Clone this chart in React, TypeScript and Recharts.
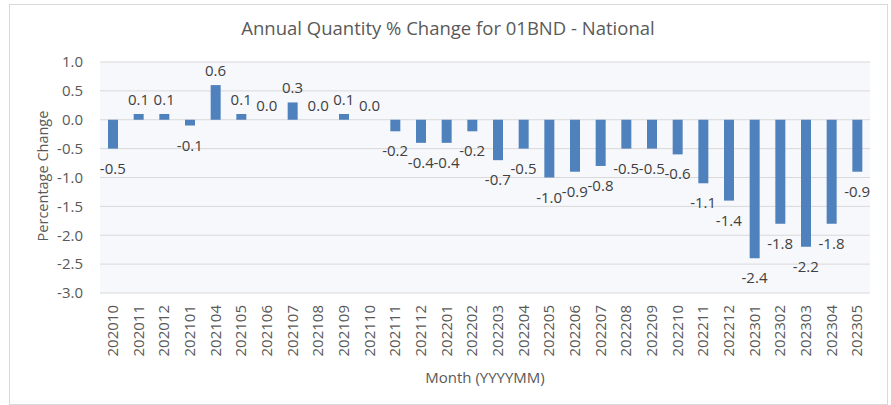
import React from 'react';
import {
  ComposedChart,
  Bar,
  Line,
  XAxis,
  YAxis,
  CartesianGrid,
  LabelList,
  Label
} from 'recharts';

// 月 (YYYYMM)
const months = [
  '202010', '202011', '202012', '202101', '202104', '202105', '202106', '202107',
  '202108', '202109', '202110', '202111', '202112', '202201', '202202', '202203',
  '202204', '202205', '202206', '202207', '202208', '202209', '202210', '202211',
  '202212', '202301', '202302', '202303', '202304', '202305'
];

// 前年比 %
const pctChange = [
  -0.5, 0.1, 0.1, -0.1, 0.6, 0.1, 0.0, 0.3,
  0.0, 0.1, 0.0, -0.2, -0.4, -0.4, -0.2, -0.7,
  -0.5, -1.0, -0.9, -0.8, -0.5, -0.5, -0.6, -1.1,
  -1.4, -2.4, -1.8, -2.2, -1.8, -0.9
];

const yTicks = [1.0, 0.5, 0.0, -0.5, -1.0, -1.5, -2.0, -2.5, -3.0];

const FONT = '"Open Sans", sans-serif';
const AXIS_COLOR = '#595959';
const LABEL_COLOR = '#404040';
const BAR_COLOR = '#4f81bd';

const data = months.map((m, i) => ({ month: m, value: pctChange[i] }));

const MonthTick = (props: any) => {
  const { x, y, payload } = props;
  return (
    <g transform={`translate(${x},${y + 4}) rotate(-90)`}>
      <text
        x={0}
        y={0}
        dy="0.35em"
        textAnchor="end"
        fill={AXIS_COLOR}
        fontSize={15}
        fontFamily={FONT}
      >
        {payload.value}
      </text>
    </g>
  );
};

// 棒の端にラベル（正は上、負は下）。見えない折れ線の点を使う
const renderValueLabel = (props: any) => {
  const { x, y, value } = props;
  if (value === null || value === undefined) return null;
  const cy = value >= 0 ? y - 15 : y + 19;
  return (
    <text
      x={x}
      y={cy}
      dominantBaseline="central"
      textAnchor="middle"
      fill={LABEL_COLOR}
      fontSize={15}
      fontFamily={FONT}
    >
      {Number(value).toFixed(1)}
    </text>
  );
};

export default function App() {
  return (
    <div style={{ position: 'absolute', left: 0, top: 0, width: 891, height: 405, background: '#fff' }}>
      <div
        style={{
          position: 'absolute',
          left: 9,
          top: 4,
          width: 877,
          height: 399,
          border: '1px solid #d9d9d9'
        }}
      />
      <div
        style={{
          position: 'absolute',
          left: 0,
          top: 15,
          width: 896,
          textAlign: 'center',
          fontFamily: FONT,
          fontSize: 18.5,
          color: AXIS_COLOR,
          lineHeight: '26px'
        }}
      >
        Annual Quantity % Change for 01BND - National
      </div>
      <div style={{ position: 'absolute', left: 0, top: 0 }}>
        <ComposedChart
          width={891}
          height={405}
          data={data}
          margin={{ top: 62, right: 21, left: 0, bottom: 0 }}
          barSize={10}
        >
          <CartesianGrid
            vertical={false}
            stroke="#d9d9d9"
            fill="#f7f8fc"
            fillOpacity={1}
          />
          <XAxis
            dataKey="month"
            interval={0}
            height={112}
            axisLine={false}
            tickLine={false}
            tick={<MonthTick />}
          >
            <Label
              content={() => (
                <text
                  x={485}
                  y={377}
                  textAnchor="middle"
                  dominantBaseline="central"
                  fill={AXIS_COLOR}
                  fontSize={15}
                  fontFamily={FONT}
                >
                  Month (YYYYMM)
                </text>
              )}
            />
          </XAxis>
          <YAxis
            width={100}
            domain={[-3, 1]}
            ticks={yTicks}
            interval={0}
            axisLine={false}
            tickLine={false}
            tickMargin={11}
            tickFormatter={(v: number) => v.toFixed(1)}
            tick={{ fill: AXIS_COLOR, fontSize: 15, fontFamily: FONT }}
          >
            <Label
              content={() => (
                <text
                  x={42}
                  y={176}
                  transform="rotate(-90 42 176)"
                  textAnchor="middle"
                  dominantBaseline="central"
                  fill={AXIS_COLOR}
                  fontSize={14.5}
                  fontFamily={FONT}
                >
                  Percentage Change
                </text>
              )}
            />
          </YAxis>
          <Bar dataKey="value" fill={BAR_COLOR} isAnimationActive={false} />
          <Line
            dataKey="value"
            stroke="none"
            dot={false}
            activeDot={false}
            legendType="none"
            isAnimationActive={false}
          >
            <LabelList dataKey="value" content={renderValueLabel} />
          </Line>
        </ComposedChart>
      </div>
    </div>
  );
}
